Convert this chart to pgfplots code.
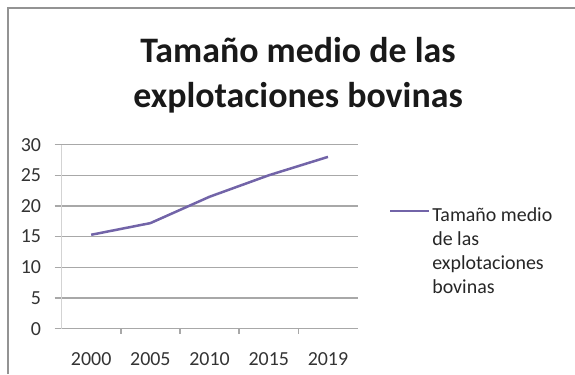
\documentclass[border=0pt]{standalone}
\usepackage{fontspec}
\setmainfont{Carlito}
\usepackage{pgfplots}
\pgfplotsset{compat=1.18}
\definecolor{linecol}{HTML}{7264A8}
\definecolor{gridc}{HTML}{A8A8A8}
\begin{document}
\begin{tikzpicture}[x=1bp,y=1bp]
\path[use as bounding box] (0,0) rectangle (575,374);
\draw[gray!85, line width=2bp] (8,0) -- (8,366) -- (576,366);
\node[font=\fontsize{36}{44}\selectfont\bfseries, anchor=base, text=black!90] at (298,312) {Tamaño medio de las};
\node[font=\fontsize{36}{44}\selectfont\bfseries, anchor=base, text=black!90] at (298,267) {explotaciones bovinas};
\begin{axis}[
  at={(104,74)}, anchor=south west,
  scale only axis, width=296bp, height=184bp,
  xmin=-0.5, xmax=4.5, ymin=0, ymax=30,
  xtick={0,...,4}, xticklabels={2000,2005,2010,2015,2019},
  minor xtick={0.5,1.5,2.5,3.5},
  ytick={0,5,...,30},
  ymajorgrids, grid style={gridc, line width=1.5bp},
  axis x line*=bottom, axis y line*=left,
  x axis line style={gridc, line width=1.5bp},
  y axis line style={gridc!50, line width=1bp},
  tick align=outside, major tick length=7bp, minor tick length=5bp,
  major x tick style={draw=none},
  minor x tick style={gridc, line width=1.5bp},
  y tick style={gridc, line width=1.5bp},
  tick label style={font=\fontsize{20}{24}\selectfont, text=black!80},
  /pgf/number format/assume math mode=true,
  yticklabel style={xshift=-10bp},
  xticklabel style={yshift=-13bp},
  legend style={draw=none, fill=none, at={(1.105,0.67)}, anchor=north west, inner sep=0pt,
    font=\fontsize{20}{24}\selectfont, text=black!85,
    cells={align=left},
    /tikz/every even column/.append style={column sep=0bp}},
  legend image code/.code={\draw[#1] (0bp,40bp) -- (39bp,40bp);},
]
\addplot[linecol, line width=2.5bp] coordinates {(0,15.3) (1,17.2) (2,21.5) (3,25.0) (4,28.0)};
\addlegendentry{Tamaño medio\\de las\\explotaciones\\bovinas}
\end{axis}
\end{tikzpicture}
\end{document}
